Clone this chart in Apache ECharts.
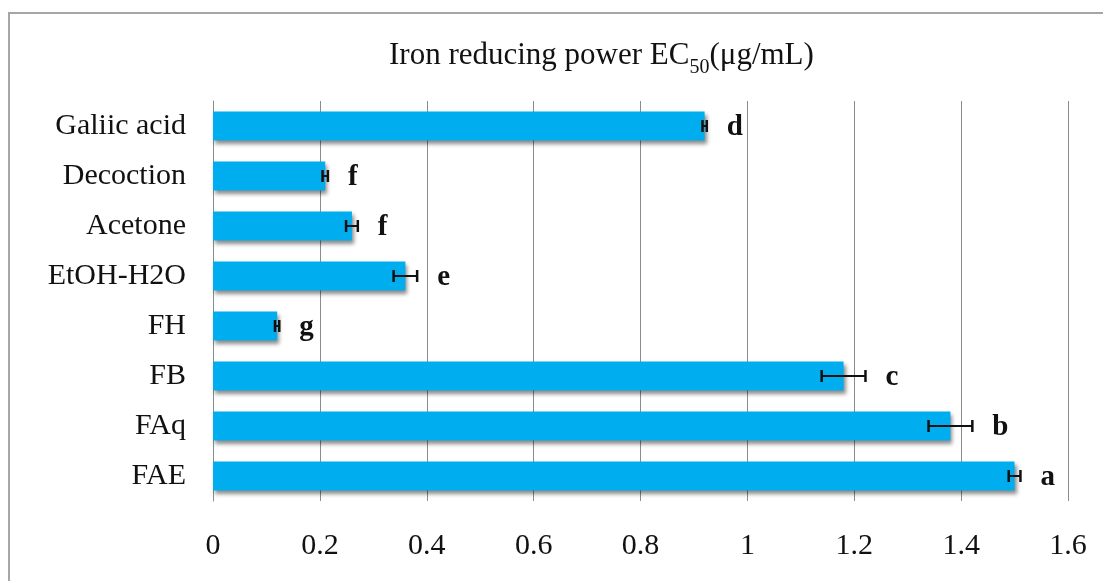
<!DOCTYPE html>
<html>
<head>
<meta charset="utf-8">
<script src="https://cdn.jsdelivr.net/npm/echarts@6/dist/echarts.min.js"></script>
<style>html,body{margin:0;padding:0;background:#fff;}#c{width:1103px;height:581px;}</style>
</head>
<body>
<div id="c"></div>
<script>
const categories = ['Galiic acid', 'Decoction', 'Acetone', 'EtOH-H2O', 'FH', 'FB', 'FAq', 'FAE'];
const values = [0.92, 0.21, 0.26, 0.36, 0.12, 1.18, 1.38, 1.50];
const errors = [0.004, 0.005, 0.011, 0.022, 0.004, 0.041, 0.041, 0.011];
const letters = ['d', 'f', 'f', 'e', 'g', 'c', 'b', 'a'];
const xTicks = [0, 0.2, 0.4, 0.6, 0.8, 1, 1.2, 1.4, 1.6];

const chart = echarts.init(document.getElementById('c'));
const serif = 'Liberation Serif';
chart.setOption({
  animation: false,
  backgroundColor: '#fff',
  graphic: [{
    type: 'rect', shape: { x: 9, y: 13, width: 1200, height: 700 },
    style: { fill: 'none', stroke: '#a6a6a6', lineWidth: 2 }, silent: true, z: -10
  }],
  title: {
    text: '{t|Iron reducing power EC}{s|50}{t|(μg/mL)}',
    left: 384, top: 35,
    textStyle: {
      fontWeight: 'normal',
      rich: {
        t: { fontFamily: serif, fontSize: 31, fontWeight: 'normal', color: '#111', verticalAlign: 'bottom' },
        s: { fontFamily: serif, fontSize: 20, fontWeight: 'normal', color: '#111', verticalAlign: 'bottom', padding: [0, 0, -7, 0] }
      }
    }
  },
  grid: { left: 213, right: 35, top: 101, bottom: 80 },
  xAxis: {
    type: 'value', min: 0, max: 1.6, interval: 0.2,
    axisLine: { show: false }, axisTick: { show: false },
    splitLine: { show: true, lineStyle: { color: '#8c8c8c', width: 1 } },
    axisLabel: {
      fontFamily: serif, fontSize: 30, color: '#111', margin: 30,
      formatter: v => { const t = xTicks.find(x => Math.abs(x - v) < 1e-9); return t === undefined ? '' : String(t); }
    }
  },
  yAxis: {
    type: 'category', data: categories, inverse: true,
    axisLine: { show: true, lineStyle: { color: '#8c8c8c', width: 1 } },
    axisTick: { show: false },
    axisLabel: { fontFamily: serif, fontSize: 30, color: '#111', margin: 27 }
  },
  series: [{
    type: 'bar', data: values, barWidth: 29,
    itemStyle: { color: '#00aeef', shadowColor: 'rgba(0,0,0,0.45)', shadowBlur: 4, shadowOffsetX: 2, shadowOffsetY: 3 }
  }, {
    type: 'custom',
    data: values.map((v, i) => [v, i, errors[i], letters[i]]),
    encode: { x: 0, y: 1 },
    renderItem: function (params, api) {
      const v = api.value(0), i = api.value(1), e = api.value(2);
      const lo = api.coord([v - e, i]);
      const hi = api.coord([v + e, i]);
      const y = lo[1];
      const h = 6;
      const style = { stroke: '#111', lineWidth: 2 };
      return {
        type: 'group',
        children: [
          { type: 'line', shape: { x1: lo[0], y1: y, x2: hi[0], y2: y }, style: style },
          { type: 'line', shape: { x1: lo[0], y1: y - h, x2: lo[0], y2: y + h }, style: { stroke: '#111', lineWidth: 2.5 } },
          { type: 'line', shape: { x1: hi[0], y1: y - h, x2: hi[0], y2: y + h }, style: { stroke: '#111', lineWidth: 2.5 } },
          { type: 'text', x: hi[0] + 20, y: y + 2, style: {
            text: letters[params.dataIndex], fontFamily: serif, fontWeight: 'bold', fontSize: 29,
            fill: '#111', align: 'left', verticalAlign: 'middle' } }
        ]
      };
    },
    z: 5
  }]
});
</script>
</body>
</html>
